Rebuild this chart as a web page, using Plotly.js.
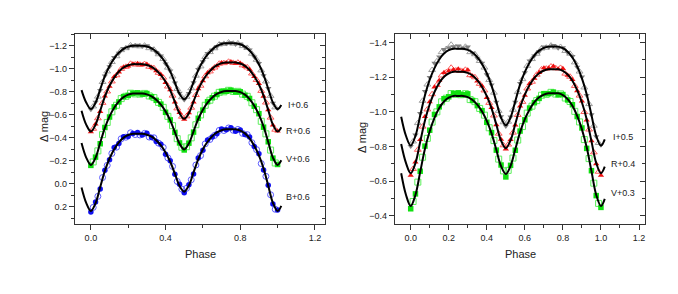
<!DOCTYPE html>
<html><head><meta charset="utf-8">
<script src="https://cdn.plot.ly/plotly-3.0.1.min.js"></script>
<style>html,body{margin:0;padding:0;background:#fff;}#chart{width:678px;height:294px;}</style>
</head><body><div id="chart"></div>
<script>
// ---------- phases ----------
const modelPhase = [-0.05,-0.025,0,0.025,0.05,0.075,0.1,0.125,0.15,0.175,0.2,0.225,0.25,0.275,0.3,0.325,0.35,0.375,0.4,0.425,0.45,0.475,0.5,0.525,0.55,0.575,0.6,0.625,0.65,0.675,0.7,0.725,0.75,0.775,0.8,0.825,0.85,0.875,0.9,0.925,0.95,0.975,1.0,1.02];
const obsPhaseA = [0,0.025,0.05,0.075,0.1,0.125,0.15,0.175,0.2,0.225,0.25,0.275,0.3,0.325,0.35,0.375,0.4,0.425,0.45,0.475,0.5,0.525,0.55,0.575,0.6,0.625,0.65,0.675,0.7,0.725,0.75,0.775,0.8,0.825,0.85,0.875,0.9,0.925,0.95,0.975,1.0];
const obsPhaseB = [0.0125,0.0375,0.0625,0.0875,0.1125,0.1375,0.1625,0.1875,0.2125,0.2375,0.2625,0.2875,0.3125,0.3375,0.3625,0.3875,0.4125,0.4375,0.4625,0.4875,0.5125,0.5375,0.5625,0.5875,0.6125,0.6375,0.6625,0.6875,0.7125,0.7375,0.7625,0.7875,0.8125,0.8375,0.8625,0.8875,0.9125,0.9375,0.9625,0.9875];

// ---------- left panel (I, R, V, B +0.6) ----------
const L_I_model = [-0.815,-0.707,-0.650,-0.705,-0.821,-0.936,-1.024,-1.090,-1.140,-1.173,-1.192,-1.200,-1.200,-1.200,-1.193,-1.177,-1.149,-1.107,-1.051,-0.977,-0.879,-0.782,-0.735,-0.784,-0.886,-0.988,-1.066,-1.125,-1.168,-1.198,-1.215,-1.222,-1.222,-1.222,-1.213,-1.193,-1.159,-1.108,-1.039,-0.947,-0.827,-0.707,-0.650,-0.686];
const L_I_obsA = [-0.646,-0.711,-0.813,-0.939,-1.018,-1.098,-1.135,-1.177,-1.185,-1.202,-1.206,-1.195,-1.200,-1.174,-1.143,-1.112,-1.043,-0.981,-0.877,-0.789,-0.730,-0.787,-0.879,-0.994,-1.062,-1.133,-1.165,-1.192,-1.220,-1.220,-1.229,-1.214,-1.216,-1.188,-1.165,-1.104,-1.047,-0.941,-0.829,-0.702,-0.654];
const L_I_obsB = [-0.673,-0.758,-0.885,-0.977,-1.059,-1.109,-1.162,-1.179,-1.203,-1.197,-1.195,-1.201,-1.179,-1.166,-1.126,-1.085,-1.010,-0.933,-0.824,-0.753,-0.757,-0.831,-0.940,-1.021,-1.103,-1.145,-1.178,-1.211,-1.216,-1.228,-1.218,-1.220,-1.197,-1.181,-1.131,-1.078,-0.986,-0.890,-0.765,-0.665];

const L_R_model = [-0.636,-0.515,-0.455,-0.514,-0.636,-0.759,-0.853,-0.923,-0.976,-1.011,-1.031,-1.040,-1.040,-1.040,-1.033,-1.016,-0.988,-0.945,-0.888,-0.812,-0.712,-0.613,-0.565,-0.614,-0.717,-0.820,-0.898,-0.957,-1.001,-1.031,-1.048,-1.055,-1.055,-1.055,-1.046,-1.025,-0.989,-0.935,-0.863,-0.767,-0.641,-0.515,-0.455,-0.493];
const L_R_obsA = [-0.451,-0.520,-0.628,-0.762,-0.847,-0.931,-0.971,-1.015,-1.024,-1.042,-1.046,-1.035,-1.040,-1.013,-0.982,-0.950,-0.880,-0.816,-0.710,-0.620,-0.560,-0.617,-0.710,-0.826,-0.894,-0.965,-0.998,-1.025,-1.053,-1.053,-1.062,-1.047,-1.049,-1.020,-0.995,-0.931,-0.871,-0.761,-0.643,-0.510,-0.459];
const L_R_obsB = [-0.479,-0.570,-0.704,-0.803,-0.890,-0.944,-0.999,-1.017,-1.043,-1.037,-1.035,-1.041,-1.018,-1.005,-0.965,-0.923,-0.846,-0.767,-0.656,-0.584,-0.587,-0.662,-0.772,-0.853,-0.935,-0.977,-1.011,-1.044,-1.049,-1.061,-1.051,-1.053,-1.030,-1.012,-0.959,-0.903,-0.808,-0.707,-0.576,-0.471];

const L_V_model = [-0.355,-0.229,-0.165,-0.227,-0.357,-0.487,-0.587,-0.661,-0.717,-0.754,-0.776,-0.785,-0.785,-0.785,-0.778,-0.761,-0.732,-0.688,-0.630,-0.552,-0.450,-0.349,-0.300,-0.351,-0.457,-0.564,-0.645,-0.706,-0.751,-0.782,-0.799,-0.807,-0.807,-0.807,-0.797,-0.775,-0.736,-0.679,-0.602,-0.499,-0.364,-0.229,-0.165,-0.205];
const L_V_obsA = [-0.161,-0.233,-0.349,-0.490,-0.581,-0.669,-0.712,-0.758,-0.769,-0.787,-0.791,-0.780,-0.785,-0.758,-0.726,-0.693,-0.622,-0.556,-0.448,-0.356,-0.295,-0.354,-0.450,-0.570,-0.641,-0.714,-0.748,-0.776,-0.804,-0.805,-0.814,-0.799,-0.800,-0.770,-0.742,-0.675,-0.610,-0.493,-0.366,-0.224,-0.169];
const L_V_obsB = [-0.191,-0.287,-0.428,-0.534,-0.626,-0.683,-0.741,-0.761,-0.788,-0.782,-0.780,-0.786,-0.764,-0.750,-0.708,-0.665,-0.587,-0.506,-0.393,-0.319,-0.323,-0.400,-0.514,-0.599,-0.683,-0.727,-0.762,-0.795,-0.800,-0.813,-0.803,-0.804,-0.780,-0.761,-0.705,-0.645,-0.544,-0.435,-0.294,-0.182];

const L_B_model = [0.030,0.164,0.235,0.168,0.027,-0.113,-0.221,-0.301,-0.361,-0.402,-0.425,-0.435,-0.435,-0.435,-0.427,-0.410,-0.380,-0.335,-0.274,-0.194,-0.089,0.017,0.067,0.013,-0.101,-0.214,-0.301,-0.366,-0.414,-0.447,-0.466,-0.474,-0.474,-0.474,-0.463,-0.439,-0.396,-0.332,-0.247,-0.134,0.015,0.164,0.235,0.191];
const L_B_obsA = [0.243,0.156,0.043,-0.119,-0.209,-0.317,-0.351,-0.410,-0.411,-0.439,-0.447,-0.425,-0.441,-0.404,-0.368,-0.345,-0.258,-0.202,-0.085,0.003,0.077,0.007,-0.087,-0.226,-0.293,-0.382,-0.408,-0.435,-0.476,-0.470,-0.488,-0.458,-0.469,-0.429,-0.408,-0.324,-0.263,-0.122,0.011,0.174,0.227];
const L_B_obsB = [0.204,0.108,-0.055,-0.161,-0.265,-0.319,-0.392,-0.406,-0.444,-0.429,-0.425,-0.439,-0.407,-0.401,-0.354,-0.317,-0.226,-0.152,-0.022,0.045,0.038,-0.036,-0.164,-0.246,-0.348,-0.386,-0.421,-0.465,-0.464,-0.486,-0.466,-0.473,-0.439,-0.428,-0.358,-0.298,-0.177,-0.066,0.094,0.220];

// ---------- right panel (I+0.5, R+0.4, V+0.3) ----------
const R_I_model = [-0.972,-0.862,-0.805,-0.861,-0.979,-1.096,-1.186,-1.253,-1.303,-1.337,-1.357,-1.365,-1.365,-1.365,-1.358,-1.343,-1.316,-1.276,-1.223,-1.152,-1.059,-0.966,-0.922,-0.968,-1.063,-1.159,-1.231,-1.286,-1.327,-1.354,-1.370,-1.377,-1.377,-1.377,-1.368,-1.348,-1.314,-1.263,-1.194,-1.102,-0.982,-0.862,-0.805,-0.841];
const R_I_obsA = [-0.801,-0.867,-0.991,-1.119,-1.200,-1.281,-1.318,-1.361,-1.370,-1.377,-1.381,-1.370,-1.375,-1.340,-1.310,-1.281,-1.215,-1.156,-1.057,-0.973,-0.917,-0.971,-1.056,-1.165,-1.227,-1.294,-1.324,-1.348,-1.375,-1.375,-1.384,-1.369,-1.371,-1.343,-1.320,-1.259,-1.202,-1.096,-0.984,-0.857,-0.809];
const R_I_obsB = [-0.829,-0.935,-1.064,-1.158,-1.242,-1.292,-1.345,-1.363,-1.388,-1.372,-1.370,-1.376,-1.345,-1.333,-1.294,-1.256,-1.184,-1.111,-1.006,-0.940,-0.943,-1.012,-1.114,-1.189,-1.266,-1.305,-1.336,-1.366,-1.371,-1.383,-1.373,-1.375,-1.352,-1.336,-1.286,-1.233,-1.141,-1.045,-0.920,-0.820];

const R_R_model = [-0.814,-0.705,-0.645,-0.704,-0.827,-0.950,-1.044,-1.115,-1.167,-1.203,-1.223,-1.232,-1.232,-1.232,-1.225,-1.210,-1.183,-1.144,-1.091,-1.020,-0.927,-0.834,-0.790,-0.836,-0.931,-1.027,-1.100,-1.155,-1.196,-1.223,-1.239,-1.246,-1.246,-1.246,-1.237,-1.216,-1.180,-1.126,-1.054,-0.958,-0.831,-0.705,-0.645,-0.683];
const R_R_obsA = [-0.633,-0.710,-0.839,-0.973,-1.058,-1.143,-1.182,-1.227,-1.236,-1.244,-1.248,-1.237,-1.242,-1.207,-1.177,-1.149,-1.083,-1.024,-0.925,-0.841,-0.785,-0.839,-0.924,-1.033,-1.096,-1.163,-1.193,-1.227,-1.254,-1.254,-1.263,-1.248,-1.250,-1.211,-1.186,-1.122,-1.062,-0.952,-0.833,-0.700,-0.633];
const R_R_obsB = [-0.670,-0.781,-0.915,-1.014,-1.102,-1.155,-1.210,-1.229,-1.255,-1.239,-1.237,-1.243,-1.212,-1.200,-1.162,-1.124,-1.052,-0.979,-0.874,-0.807,-0.811,-0.880,-0.982,-1.058,-1.135,-1.174,-1.215,-1.245,-1.250,-1.262,-1.252,-1.254,-1.221,-1.203,-1.150,-1.094,-0.999,-0.898,-0.766,-0.654];

const R_V_model = [-0.645,-0.521,-0.456,-0.520,-0.653,-0.787,-0.888,-0.965,-1.022,-1.060,-1.082,-1.092,-1.092,-1.092,-1.085,-1.069,-1.042,-1.002,-0.948,-0.876,-0.781,-0.686,-0.641,-0.688,-0.785,-0.883,-0.958,-1.014,-1.056,-1.084,-1.100,-1.107,-1.107,-1.107,-1.097,-1.074,-1.035,-0.977,-0.899,-0.795,-0.658,-0.521,-0.456,-0.497];
const R_V_obsA = [-0.440,-0.526,-0.657,-0.802,-0.894,-0.985,-1.029,-1.076,-1.087,-1.106,-1.110,-1.099,-1.104,-1.066,-1.036,-1.007,-0.940,-0.880,-0.779,-0.693,-0.624,-0.691,-0.778,-0.889,-0.954,-1.022,-1.053,-1.078,-1.105,-1.105,-1.114,-1.099,-1.100,-1.069,-1.041,-0.973,-0.907,-0.789,-0.660,-0.516,-0.448];
const R_V_obsB = [-0.482,-0.594,-0.738,-0.847,-0.941,-1.000,-1.058,-1.079,-1.106,-1.101,-1.099,-1.105,-1.071,-1.059,-1.020,-0.981,-0.908,-0.834,-0.727,-0.659,-0.662,-0.733,-0.837,-0.915,-0.993,-1.033,-1.065,-1.096,-1.101,-1.113,-1.103,-1.104,-1.080,-1.060,-1.003,-0.942,-0.840,-0.730,-0.588,-0.471];

// ---------- labels ----------
const leftLabels = ['I+0.6','R+0.6','V+0.6','B+0.6'];
const rightLabels = ['I+0.5','R+0.4','V+0.3'];
const xTitle = 'Phase';
const yTitle = '\u0394 mag';

// ---------- styling ----------
const FONT = 'Liberation Sans, Arial, sans-serif';
const AX = '#333333';
const styles = {
  I: {fill:'#808080', open:'#a0a0a0', symA:'triangle-down', symB:'triangle-up-open'},
  R: {fill:'#ee1010', open:'#ff5a5a', symA:'triangle-up', symB:'triangle-up-open'},
  V: {fill:'#10e010', open:'#5cef5c', symA:'square', symB:'square-open'},
  B: {fill:'#1010f0', open:'#5a5aff', symA:'circle', symB:'circle-open'}
};

const traces = [];
function addBand(band, xa, ya, obsA, obsB) {
  const s = styles[band];
  traces.push({x: obsPhaseB, y: obsB, xaxis: xa, yaxis: ya, type:'scatter', mode:'markers',
    marker:{symbol:s.symB, size:6, color:s.open, line:{width:1, color:s.open}}, hoverinfo:'skip'});
  traces.push({x: obsPhaseA, y: obsA, xaxis: xa, yaxis: ya, type:'scatter', mode:'markers',
    marker:{symbol:s.symA, size:5.5, color:s.fill, line:{width:0}}, hoverinfo:'skip'});
}
function addModel(xa, ya, model) {
  traces.push({x: modelPhase, y: model, xaxis: xa, yaxis: ya, type:'scatter', mode:'lines',
    line:{color:'#000', width:2, shape:'spline', smoothing:1}, hoverinfo:'skip'});
}
addBand('I','x','y',L_I_obsA,L_I_obsB);
addBand('R','x','y',L_R_obsA,L_R_obsB);
addBand('V','x','y',L_V_obsA,L_V_obsB);
addBand('B','x','y',L_B_obsA,L_B_obsB);
addModel('x','y',L_I_model); addModel('x','y',L_R_model); addModel('x','y',L_V_model); addModel('x','y',L_B_model);
addBand('I','x2','y2',R_I_obsA,R_I_obsB);
addBand('R','x2','y2',R_R_obsA,R_R_obsB);
addBand('V','x2','y2',R_V_obsA,R_V_obsB);
addModel('x2','y2',R_I_model); addModel('x2','y2',R_R_model); addModel('x2','y2',R_V_model);
// empty traces to register mirror (inside-tick) axes
traces.push({x:[],y:[],xaxis:'x3',yaxis:'y',type:'scatter',mode:'markers',hoverinfo:'skip'});
traces.push({x:[],y:[],xaxis:'x',yaxis:'y3',type:'scatter',mode:'markers',hoverinfo:'skip'});
traces.push({x:[],y:[],xaxis:'x4',yaxis:'y2',type:'scatter',mode:'markers',hoverinfo:'skip'});
traces.push({x:[],y:[],xaxis:'x2',yaxis:'y4',type:'scatter',mode:'markers',hoverinfo:'skip'});

const yDom = [1-224/294, 1-34/294];
const LxDom = [75/678, 325/678];
const RxDom = [395/678, 645/678];
const Lxr = [-0.085, 1.254], Lyr = [0.348, -1.302];
const Rxr = [-0.0825, 1.2315], Ryr = [-0.352, -1.45];

function mainAxis(dom, rng, dtick, mdtick, anchor) {
  return {domain: dom, range: rng, anchor: anchor, autorange:false, showgrid:false, zeroline:false,
    showline:true, linecolor:AX, linewidth:1.2, ticks:'outside', ticklen:5, tickwidth:1, tickcolor:AX,
    tick0:0, dtick:dtick, tickformat:'.1f', tickfont:{family:FONT, size:9, color:'#222'},
    minor:{ticks:'outside', ticklen:3, tickwidth:1, tickcolor:AX, tick0:0, dtick:mdtick, showgrid:false}};
}
function mirrorAxis(rng, dtick, mdtick, overlay, side, anchor) {
  return {range: rng, overlaying: overlay, side: side, anchor: anchor, autorange:false, showgrid:false,
    zeroline:false, showline:true, linecolor:AX, linewidth:1.2, ticks:'inside', ticklen:5, tickwidth:1,
    tickcolor:AX, tick0:0, dtick:dtick, showticklabels:false,
    minor:{ticks:'inside', ticklen:3, tickwidth:1, tickcolor:AX, tick0:0, dtick:mdtick, showgrid:false}};
}

const ann = [];
const tf = {family:FONT, size:11, color:'#222'};
ann.push({text:xTitle, xref:'paper', yref:'paper', x:(LxDom[0]+LxDom[1])/2, y:1-254/294, showarrow:false, font:tf, xanchor:'center', yanchor:'middle'});
ann.push({text:xTitle, xref:'paper', yref:'paper', x:(RxDom[0]+RxDom[1])/2, y:1-254/294, showarrow:false, font:tf, xanchor:'center', yanchor:'middle'});
ann.push({text:yTitle, xref:'paper', yref:'paper', x:44/678, y:1-127/294, showarrow:false, font:tf, textangle:-90, xanchor:'center', yanchor:'middle'});
ann.push({text:yTitle, xref:'paper', yref:'paper', x:362/678, y:1-138/294, showarrow:false, font:tf, textangle:-90, xanchor:'center', yanchor:'middle'});
const lf = {family:FONT, size:9, color:'#222'};
const leftLabelY = [-0.685, -0.46, -0.217, 0.113];
leftLabels.forEach((t,i)=>ann.push({text:t, xref:'x', yref:'y', x:1.109, y:leftLabelY[i], showarrow:false, font:lf, xanchor:'center', yanchor:'middle'}));
const rightLabelY = [-0.855, -0.699, -0.531];
rightLabels.forEach((t,i)=>ann.push({text:t, xref:'x2', yref:'y2', x:1.116, y:rightLabelY[i], showarrow:false, font:lf, xanchor:'center', yanchor:'middle'}));

const layout = {
  width:678, height:294, margin:{l:0,r:0,t:0,b:0}, paper_bgcolor:'#fff', plot_bgcolor:'#fff',
  showlegend:false, font:{family:FONT},
  xaxis: mainAxis(LxDom, Lxr, 0.4, 0.2, 'y'),
  yaxis: mainAxis(yDom, Lyr, 0.2, 0.1, 'x'),
  xaxis2: mainAxis(RxDom, Rxr, 0.2, 0.1, 'y2'),
  yaxis2: mainAxis(yDom, Ryr, 0.2, 0.1, 'x2'),
  xaxis3: mirrorAxis(Lxr, 0.4, 0.2, 'x', 'top', 'y'),
  yaxis3: mirrorAxis(Lyr, 0.2, 0.1, 'y', 'right', 'x'),
  xaxis4: mirrorAxis(Rxr, 0.2, 0.1, 'x2', 'top', 'y2'),
  yaxis4: mirrorAxis(Ryr, 0.2, 0.1, 'y2', 'right', 'x2'),
  annotations: ann
};
Plotly.newPlot('chart', traces, layout, {staticPlot:true, displayModeBar:false});
</script></body></html>
